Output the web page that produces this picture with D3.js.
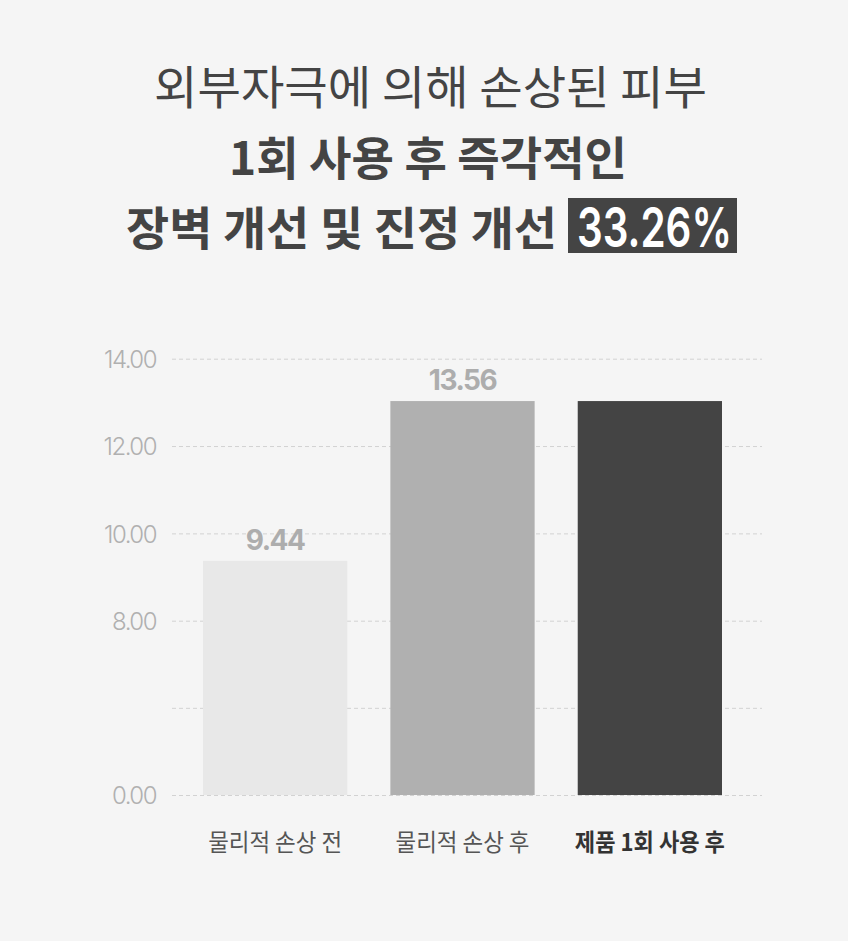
<!DOCTYPE html>
<html>
<head>
<meta charset="utf-8">
<script src="https://cdn.jsdelivr.net/npm/d3@7"></script>
<style>
  html, body { margin: 0; padding: 0; background: #f5f5f5; }
  svg { display: block; }
</style>
</head>
<body>
<svg id="chart"></svg>
<script>
// 제목
const titleLines = ["외부자극에 의해 손상된 피부", "1회 사용 후 즉각적인", "장벽 개선 및 진정 개선"];
const highlight = "33.26%";

// 막대 데이터 (막대 높이는 그림에서 읽은 값, 라벨은 표기된 값)
const categories = ["물리적 손상 전", "물리적 손상 후", "제품 1회 사용 후"];
const barValues = [9.37, 13.03, 13.03];
const valueLabels = ["9.44", "13.56", ""];

// y축 (0~8 구간은 압축된 축)
const tickValues = [0, 4, 8, 10, 12, 14];
const tickLabels = ["0.00", "", "8.00", "10.00", "12.00", "14.00"];

const width = 848, height = 941;
const korean = "'Noto Sans CJK KR', 'Noto Sans', sans-serif";
const numFont = "Inter, 'Noto Sans', sans-serif";

const svg = d3.select("#chart")
    .attr("width", width)
    .attr("height", height)
    .style("background", "#f5f5f5");

// ---- 제목 ----
const title = svg.append("g").attr("fill", "#444");

title.append("text")
    .attr("x", 154).attr("y", 104)
    .attr("textLength", 553).attr("lengthAdjust", "spacingAndGlyphs")
    .style("font", `400 46px ${korean}`)
    .text(titleLines[0]);

title.append("text")
    .attr("x", 229).attr("y", 175)
    .attr("textLength", 398).attr("lengthAdjust", "spacingAndGlyphs")
    .style("font", `700 46px ${korean}`)
    .text(titleLines[1]);

title.append("text")
    .attr("x", 126).attr("y", 245)
    .attr("textLength", 431).attr("lengthAdjust", "spacingAndGlyphs")
    .style("font", `700 46px ${korean}`)
    .text(titleLines[2]);

title.append("rect")
    .attr("x", 568).attr("y", 198)
    .attr("width", 169).attr("height", 55)
    .attr("fill", "#444");

title.append("text")
    .attr("x", 577).attr("y", 247)
    .attr("textLength", 155).attr("lengthAdjust", "spacingAndGlyphs")
    .attr("fill", "#fff")
    .style("font", `600 55px ${numFont}`)
    .text(highlight);

// ---- 차트 ----
const gridLeft = 172, gridRight = 762;

const x = d3.scaleBand()
    .domain(categories)
    .range([203, 722])
    .paddingInner(0.23)
    .paddingOuter(0);

const y = d3.scaleLinear()
    .domain([0, 8, 14])
    .range([795, 620.7, 358.7]);

const color = d3.scaleOrdinal()
    .domain(categories)
    .range(["#e8e8e8", "#b0b0b0", "#444444"]);

const yAxis = g => g
    .attr("transform", `translate(${gridLeft},0)`)
    .call(d3.axisLeft(y)
        .tickValues(tickValues)
        .tickFormat((d, i) => tickLabels[i])
        .tickSize(-(gridRight - gridLeft))
        .tickPadding(16))
    .call(g => g.select(".domain").remove())
    .call(g => g.selectAll(".tick line")
        .attr("stroke", "#d2d2d2")
        .attr("stroke-dasharray", "4,3"))
    .call(g => g.selectAll(".tick text")
        .attr("fill", "#b0b0b0")
        .attr("dy", "0.36em")
        .style("font", `300 24px ${numFont}`)
        .style("letter-spacing", "-1.5px"));

svg.append("g").call(yAxis);

svg.append("g")
    .selectAll("rect")
    .data(categories)
    .join("rect")
    .attr("x", d => x(d))
    .attr("width", x.bandwidth())
    .attr("y", (d, i) => y(barValues[i]))
    .attr("height", (d, i) => y(0) - y(barValues[i]))
    .attr("fill", d => color(d));

svg.append("g")
    .selectAll("text")
    .data(categories)
    .join("text")
    .attr("x", d => x(d) + x.bandwidth() / 2)
    .attr("y", (d, i) => y(barValues[i]) - 11)
    .attr("text-anchor", "middle")
    .attr("fill", "#adadad")
    .style("font", `700 28px ${numFont}`)
    .style("letter-spacing", "-1.5px")
    .text((d, i) => valueLabels[i]);

// x축 라벨
svg.append("g")
    .selectAll("text")
    .data(categories)
    .join("text")
    .attr("x", d => x(d) + x.bandwidth() / 2)
    .attr("y", 851)
    .attr("text-anchor", "middle")
    .attr("textLength", (d, i) => i === 2 ? 150 : 134)
    .attr("lengthAdjust", "spacingAndGlyphs")
    .attr("fill", (d, i) => i === 2 ? "#333" : "#555")
    .style("font", (d, i) => `${i === 2 ? 700 : 400} 24px ${korean}`)
    .text(d => d);
</script>
</body>
</html>
